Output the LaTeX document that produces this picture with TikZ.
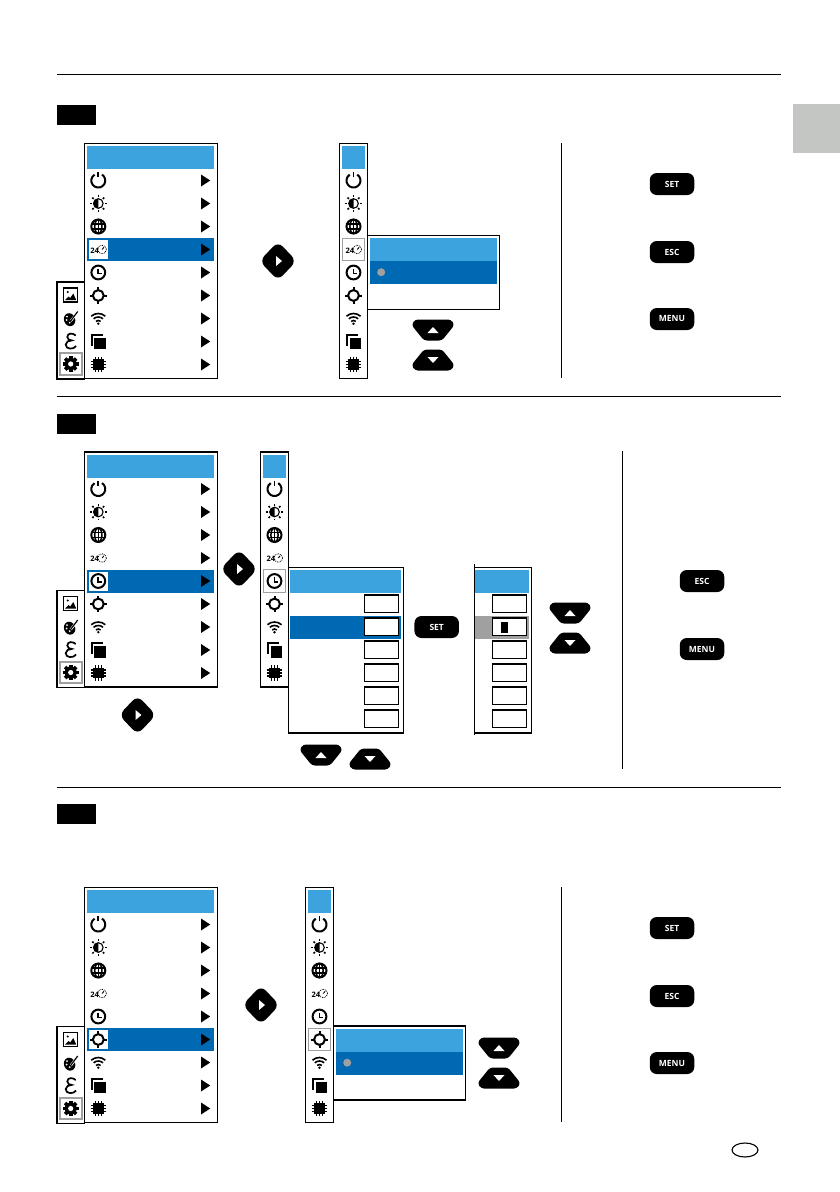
\documentclass[tikz,border=0pt]{standalone}
\usepackage{fontspec}
\setmainfont{Open Sans}
\usepackage{xcolor}
\usetikzlibrary{calc, shapes.geometric}
\definecolor{headblue}{RGB}{61, 163, 222}
\definecolor{rowblue}{RGB}{0, 105, 180}
\definecolor{markgray}{RGB}{160, 160, 160}
\definecolor{tabgray}{RGB}{196, 198, 196}

% Icons
\tikzset{
    powericon/.pic={
        \draw[line width=2pt] (3.7,-5.9) arc (302:598:7);
        \draw[line width=1.7pt] (0,-8.3) -- (0,-3.2);
    },
    sunicon/.pic={
        \draw[line width=1.1pt] (0,0) circle[radius=4.8];
        \fill (0,-4.8) arc (270:90:4.8) -- cycle;
        \foreach \a in {0,45,...,315}
            \draw[line width=1.5pt] (\a:6.5) -- (\a:8.4);
    },
    globeicon/.pic={
        \draw[line width=2pt] (0,0) circle[radius=7];
        \draw[line width=1.5pt] (0,0) ellipse[x radius=3.6, y radius=7];
        \draw[line width=1.5pt] (0,-7) -- (0,7) (-7,-2.4) -- (7,-2.4) (-7,2.4) -- (7,2.4);
    },
    timericon/.pic={
        \node[font=\bfseries\fontsize{7.5}{8}\selectfont, inner sep=0pt] (-hours) at (-3.6,1) {24};
        \draw[line width=.8pt, densely dotted] (3.8,0) circle[radius=4.3];
        \draw[line width=.9pt] (3.8,0) -- (5.6,-2.2);
    },
    clockicon/.pic={
        \draw[line width=2pt] (0,0) circle[radius=6.9];
        \draw[line width=1.8pt] (0,-3.8) -- (0,.9) -- (3.8,.9);
    },
    targeticon/.pic={
        \draw[line width=2pt] (0,0) circle[radius=5.4];
        \foreach \a in {0,90,180,270}
            \draw[line width=2pt] (\a:5) -- (\a:8.3);
    },
    wifiicon/.pic={
        \foreach \r in {3.5,7,10.5}
            \draw[line width=1.6pt] (0,5.5) ++(228:\r) arc (228:312:\r);
        \fill (0,5.2) circle[radius=1.3];
    },
    copyicon/.pic={
        \fill (-4,-3.8) rectangle (7.6,7.6);
        \draw[line width=2.1pt] (-6.6,4.4) -- (-6.6,-6.6) -- (4.4,-6.6);
    },
    chipicon/.pic={
        \fill (-5.2,-5.2) rectangle (5.2,5.2);
        \foreach \p in {-3,0,3}
            \draw[line width=1.3pt] (\p,-7.8) -- (\p,7.8) (-7.8,\p) -- (7.8,\p);
    },
    imageicon/.pic={
        \draw[line width=1.5pt] (-7,-7) rectangle (7,7);
        \fill (-5.5,5) -- (-2,1.5) -- (-.5,3) -- (2.6,-1.5) -- (5.5,5) -- cycle;
        \fill (-3,-3) circle[radius=1.1];
    },
    paletteicon/.pic={
        \fill[rotate=20] (-1.6,1.2) ellipse[x radius=5.6, y radius=6.6];
        \fill[white] (-3.6,-1.4) circle[radius=1] (-4,2) circle[radius=1] (-1,4.6) circle[radius=1];
        \draw[white, line width=2.4pt] (0,3) -- (4,-2);
        \draw[line width=1.2pt] (-.5,3.5) -- (7,-6.5);
    },
    epsicon/.pic={
        \draw[line width=1.7pt] (5,-5.4) .. controls (3,-8) and (-3.4,-8.6) .. (-3.4,-4)
            .. controls (-3.4,-1.6) and (-1,-.6) .. (1,-.6)
            .. controls (-2,-.6) and (-5,1) .. (-5,3.6)
            .. controls (-5,8.6) and (3,8.8) .. (5.4,5);
    },
    gearicon/.pic={
        \foreach \a in {0,45,...,315}
            \fill[rotate=\a] (-1.8,-7.8) rectangle (1.8,0);
        \fill (0,0) circle[radius=6];
        \fill[white] (0,0) circle[radius=2.6];
    },
    % Keys
    upkey/.pic={
        \fill[rounded corners=3pt] (-18,-10.5) -- (18,-10.5) -- (21.5,-5) -- (9,10.5) -- (-9,10.5) -- (-21.5,-5) -- cycle;
        \fill[white] (-5.5,3) -- (5.5,3) -- (0,-3) -- cycle;
    },
    downkey/.pic={
        \fill[rounded corners=3pt] (-18,10.5) -- (18,10.5) -- (21.5,5) -- (9,-10.5) -- (-9,-10.5) -- (-21.5,5) -- cycle;
        \fill[white] (-5.5,-3) -- (5.5,-3) -- (0,3) -- cycle;
    },
    rightkey/.pic={
        \fill[rounded corners=7pt] (0,-19.5) -- (18.5,0) -- (0,19.5) -- (-18.5,0) -- cycle;
        \fill[white] (-2,-5) -- (4,0) -- (-2,5) -- cycle;
    },
    rowarrow/.pic={
        \fill (-4.5,-6) -- (4.7,0) -- (-4.5,6) -- cycle;
    },
    menuicons/.pic={
        \pic at (0,0) {powericon};
        \pic at (0,23) {sunicon};
        \pic at (0,46) {globeicon};
        \pic (-timer) at (0,69) {timericon};
        \pic at (0,92) {clockicon};
        \pic at (0,115) {targeticon};
        \pic at (0,138) {wifiicon};
        \pic at (0,161) {copyicon};
        \pic at (0,184) {chipicon};
    }
}

% Full menu: name, y of first row, marked row
\newcommand{\menupanel}[3]{
    \node[menuframe] (#1frame) at (84.5,{#2-37}) {};
    \node[headbar, minimum width=127pt] (#1head) at (87,{#2-34.5}) {};
    \node[rowbar, minimum width=127pt] (#1mark) at (87,{#2+23*(#3-1)-11.5}) {};
    \node[iconback] (#1back) at (98.5,{#2+23*(#3-1)}) {};
    \pic (#1icons) at (98.3,#2) {menuicons};
    \foreach \i in {0,...,8}
        \pic at (205.5,{#2+23*\i}) {rowarrow};
}
% Side rail: name, y of first icon, x fixed
\newcommand{\railpanel}[2]{
    \node[railframe] (#1frame) at (57,{#2-13}) {};
    \pic at (70.7,#2) {imageicon};
    \pic at (70.7,{#2+23}) {paletteicon};
    \pic at (70.7,{#2+46}) {epsicon};
    \node[railmark] (#1mark) at (70.6,{#2+69}) {};
    \pic at (70.7,{#2+69}) {gearicon};
}
% Narrow menu: name, left x, y of first row, marked row
\newcommand{\strippanel}[4]{
    \node[stripframe] (#1frame) at (#2,{#3-37}) {};
    \node[headbar, minimum width=23pt] (#1head) at ({#2+2.5},{#3-34.5}) {};
    \node[stripmark] (#1mark) at ({#2+14},{#3+23*(#4-1)}) {};
    \pic (#1icons) at ({#2+14},#3) {menuicons};
}
% Selection popup: name, left x, top y
\newcommand{\choicepopup}[3]{
    \node[popupframe] (#1frame) at (#2,#3) {};
    \node[headbar, minimum width=127pt] (#1head) at ({#2+2.5},{#3+2.5}) {};
    \node[rowbar, minimum width=127pt] (#1mark) at ({#2+2.5},{#3+25.5}) {};
    \node[circle, fill=markgray, minimum size=8pt, inner sep=0pt] (#1dot) at ({#2+13.7},{#3+36.7}) {};
}

\begin{document}
\begin{tikzpicture}[
        x=1pt, y=-1pt,
        blockmark/.style={rectangle, fill=black, anchor=north west, minimum width=39pt, minimum height=20pt, inner sep=0pt, outer sep=0pt},
        menuframe/.style={rectangle, draw=black, line width=1.1pt, anchor=north west, minimum width=133pt, minimum height=235pt, inner sep=0pt, outer sep=0pt},
        railframe/.style={rectangle, draw=black, line width=1.1pt, anchor=north west, minimum width=27.5pt, minimum height=97pt, inner sep=0pt, outer sep=0pt},
        stripframe/.style={rectangle, draw=black, line width=1.1pt, anchor=north west, minimum width=28pt, minimum height=235pt, inner sep=0pt, outer sep=0pt},
        popupframe/.style={rectangle, draw=black, fill=white, line width=1.1pt, anchor=north west, minimum width=132pt, minimum height=74pt, inner sep=0pt, outer sep=0pt},
        headbar/.style={rectangle, fill=headblue, anchor=north west, minimum height=23pt, inner sep=0pt, outer sep=0pt},
        rowbar/.style={rectangle, fill=rowblue, anchor=north west, minimum height=23pt, inner sep=0pt, outer sep=0pt},
        iconback/.style={rectangle, fill=white, minimum width=19pt, minimum height=19pt, inner sep=0pt},
        railmark/.style={rectangle, draw=markgray, line width=2pt, minimum width=22pt, minimum height=21.5pt, inner sep=0pt},
        stripmark/.style={rectangle, draw=markgray, fill=white, line width=1pt, minimum width=22.5pt, minimum height=22.5pt, inner sep=0pt},
        valuebox/.style={rectangle, draw=black, fill=white, line width=1.1pt, minimum width=34.4pt, minimum height=17.7pt, inner sep=0pt},
        keybtn/.style={rectangle, rounded corners=7pt, fill=black, text=white, minimum width=44.5pt, minimum height=22pt, inner sep=0pt, font=\bfseries\fontsize{8.5}{9}\selectfont}
    ]
        \useasboundingbox (0,0) rectangle (840,1192);

        % Page furniture
        \foreach \y in {74.5,396.5,787.5}
            \draw[line width=1pt] (57,\y) -- (781,\y);
        \fill[tabgray] (793,104) rectangle (840,153);
        \node[ellipse, draw=black, line width=1.1pt, minimum width=26pt, minimum height=14pt, inner sep=0pt] (langmark) at (745,1150) {};

        % Step one
        \node[blockmark] (blockA) at (57,105) {};
        \menupanel{menuA}{180.5}{4}
        \railpanel{railA}{295}
        \pic (diamondA) at (278,261) {rightkey};
        \strippanel{stripA}{339.5}{180.5}{4}
        \choicepopup{popupA}{367.5}{235.5}
        \pic (upA) at (433,330) {upkey};
        \pic (downA) at (433,360) {downkey};
        \draw[line width=1pt] (561.5,143) -- (561.5,378);
        \node[keybtn] (setA) at (672,184) {SET};
        \node[keybtn] (escA) at (672,252) {ESC};
        \node[keybtn] (menuKeyA) at (672,319) {MENU};

        % Step two
        \node[blockmark] (blockB) at (57,414) {};
        \menupanel{menuB}{489}{5}
        \railpanel{railB}{603.5}
        \pic (diamondB) at (239,569) {rightkey};
        \pic (diamondC) at (137.5,715) {rightkey};
        \strippanel{stripB}{260.5}{489}{5}

        \node[popupframe, minimum width=115pt, minimum height=165.5pt] (timeFrame) at (288.5,567.5) {};
        \node[headbar, minimum width=111pt] (timeHead) at (290,570) {};
        \node[rowbar, minimum width=111pt] (timeMark) at (290,616) {};
        \node[popupframe, minimum width=57pt, minimum height=165.5pt] (editFrame) at (474.7,567.5) {};
        \node[headbar, minimum width=54pt] (editHead) at (475.2,570) {};
        \node[rowbar, fill=markgray, minimum width=54pt] (editMark) at (475.2,616) {};
        \draw[line width=1pt] (474.7,564) -- (474.7,735);
        \foreach \i/\y in {1/603.8,2/626.8,3/649.8,4/672.8,5/695.8,6/718.8} {
            \node[valuebox] (timeBox\i) at (381.5,\y) {};
            \node[valuebox] (editBox\i) at (509.5,\y) {};
        }
        \node[rectangle, fill=black, minimum width=7pt, minimum height=11pt, inner sep=0pt] (editCursor) at (504.5,627.5) {};
        \node[keybtn] (setB) at (436.7,627) {SET};
        \pic (upB) at (570,613) {upkey};
        \pic (downB) at (570,643) {downkey};
        \pic (upC) at (321,755) {upkey};
        \pic (downC) at (370,759) {downkey};
        \draw[line width=1pt] (622.5,451) -- (622.5,769);
        \node[keybtn] (escB) at (702,581) {ESC};
        \node[keybtn] (menuKeyB) at (702,649) {MENU};

        % Step three
        \node[blockmark] (blockD) at (57,804) {};
        \menupanel{menuD}{924.5}{6}
        \railpanel{railD}{1039.5}
        \pic (diamondD) at (261,1005) {rightkey};
        \strippanel{stripD}{305.5}{924.5}{6}
        \choicepopup{popupD}{333.5}{1026}
        \pic (upD) at (499,1048) {upkey};
        \pic (downD) at (499,1078) {downkey};
        \draw[line width=1pt] (561.5,887) -- (561.5,1122);
        \node[keybtn] (setD) at (672,928) {SET};
        \node[keybtn] (escD) at (672,996) {ESC};
        \node[keybtn] (menuKeyD) at (672,1063) {MENU};
    \end{tikzpicture}
\end{document}
